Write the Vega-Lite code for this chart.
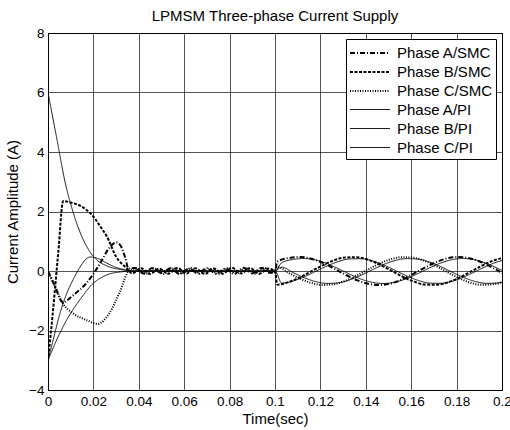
{
  "$schema": "https://vega.github.io/schema/vega-lite/v6.json",
  "width": 454,
  "height": 357,
  "autosize": {"type": "none"},
  "padding": {"left": 48, "top": 33, "right": 8, "bottom": 40},
  "background": "white",
  "title": {"text": "LPMSM Three-phase Current Supply", "fontSize": 15, "font": "Liberation Sans", "fontWeight": "normal", "color": "black", "offset": 2, "anchor": "middle"},
  "config": {
    "view": {"stroke": "black", "strokeWidth": 1},
    "font": "Liberation Sans",
    "axis": {"gridColor": "black", "gridOpacity": 0.85, "gridWidth": 0.8, "domain": false, "ticks": false, "labelFont": "Liberation Sans", "labelFontSize": 13.5, "labelColor": "black", "titleFont": "Liberation Sans", "titleFontSize": 15, "titleFontWeight": "normal", "titleColor": "black"},
    "legend": {"labelFont": "Liberation Sans", "labelFontSize": 15, "labelColor": "black"}
  },
  "data": {"values": [
    {"series":"Phase A/SMC","time":0,"current":0},{"series":"Phase A/SMC","time":0.003,"current":-0.5},{"series":"Phase A/SMC","time":0.0065,"current":-1.05},{"series":"Phase A/SMC","time":0.011,"current":-0.82},{"series":"Phase A/SMC","time":0.017,"current":-0.4},{"series":"Phase A/SMC","time":0.023,"current":0.26},{"series":"Phase A/SMC","time":0.027,"current":0.78},{"series":"Phase A/SMC","time":0.03,"current":0.96},{"series":"Phase A/SMC","time":0.032,"current":0.85},{"series":"Phase A/SMC","time":0.034,"current":0.45},{"series":"Phase A/SMC","time":0.0355,"current":0.08},
    {"series":"Phase A/SMC","time":0.038,"current":0.1},{"series":"Phase A/SMC","time":0.042,"current":-0.08},{"series":"Phase A/SMC","time":0.046,"current":0.1},{"series":"Phase A/SMC","time":0.05,"current":-0.07},{"series":"Phase A/SMC","time":0.054,"current":0.09},{"series":"Phase A/SMC","time":0.058,"current":-0.1},{"series":"Phase A/SMC","time":0.062,"current":0.08},{"series":"Phase A/SMC","time":0.066,"current":-0.08},{"series":"Phase A/SMC","time":0.07,"current":0.1},{"series":"Phase A/SMC","time":0.074,"current":-0.09},{"series":"Phase A/SMC","time":0.078,"current":0.08},{"series":"Phase A/SMC","time":0.082,"current":-0.1},{"series":"Phase A/SMC","time":0.086,"current":0.11},{"series":"Phase A/SMC","time":0.09,"current":-0.08},{"series":"Phase A/SMC","time":0.094,"current":0.1},{"series":"Phase A/SMC","time":0.098,"current":-0.06},{"series":"Phase A/SMC","time":0.1,"current":0},
    {"series":"Phase A/SMC","time":0.101,"current":0.314},{"series":"Phase A/SMC","time":0.106,"current":0.434},{"series":"Phase A/SMC","time":0.111,"current":0.47},{"series":"Phase A/SMC","time":0.116,"current":0.413},{"series":"Phase A/SMC","time":0.121,"current":0.276},{"series":"Phase A/SMC","time":0.126,"current":0.084},{"series":"Phase A/SMC","time":0.131,"current":-0.123},{"series":"Phase A/SMC","time":0.136,"current":-0.306},{"series":"Phase A/SMC","time":0.141,"current":-0.43},{"series":"Phase A/SMC","time":0.146,"current":-0.47},{"series":"Phase A/SMC","time":0.151,"current":-0.418},{"series":"Phase A/SMC","time":0.156,"current":-0.284},{"series":"Phase A/SMC","time":0.161,"current":-0.094},{"series":"Phase A/SMC","time":0.166,"current":0.113},{"series":"Phase A/SMC","time":0.171,"current":0.298},{"series":"Phase A/SMC","time":0.176,"current":0.426},{"series":"Phase A/SMC","time":0.181,"current":0.47},{"series":"Phase A/SMC","time":0.186,"current":0.423},{"series":"Phase A/SMC","time":0.191,"current":0.293},{"series":"Phase A/SMC","time":0.196,"current":0.105},{"series":"Phase A/SMC","time":0.201,"current":-0.102},

    {"series":"Phase B/SMC","time":0,"current":-3.0},{"series":"Phase B/SMC","time":0.002,"current":-1.5},{"series":"Phase B/SMC","time":0.0045,"current":0.6},{"series":"Phase B/SMC","time":0.0067,"current":2.35},{"series":"Phase B/SMC","time":0.01,"current":2.3},{"series":"Phase B/SMC","time":0.0141,"current":2.2},{"series":"Phase B/SMC","time":0.017,"current":2.05},{"series":"Phase B/SMC","time":0.02,"current":1.83},{"series":"Phase B/SMC","time":0.023,"current":1.5},{"series":"Phase B/SMC","time":0.026,"current":1.15},{"series":"Phase B/SMC","time":0.03,"current":0.48},{"series":"Phase B/SMC","time":0.0347,"current":0.09},
    {"series":"Phase B/SMC","time":0.037,"current":-0.08},{"series":"Phase B/SMC","time":0.041,"current":0.09},{"series":"Phase B/SMC","time":0.045,"current":-0.1},{"series":"Phase B/SMC","time":0.049,"current":0.08},{"series":"Phase B/SMC","time":0.053,"current":-0.09},{"series":"Phase B/SMC","time":0.057,"current":0.1},{"series":"Phase B/SMC","time":0.061,"current":-0.08},{"series":"Phase B/SMC","time":0.065,"current":0.09},{"series":"Phase B/SMC","time":0.069,"current":-0.1},{"series":"Phase B/SMC","time":0.073,"current":0.08},{"series":"Phase B/SMC","time":0.077,"current":-0.09},{"series":"Phase B/SMC","time":0.081,"current":0.11},{"series":"Phase B/SMC","time":0.085,"current":-0.08},{"series":"Phase B/SMC","time":0.089,"current":0.1},{"series":"Phase B/SMC","time":0.093,"current":-0.09},{"series":"Phase B/SMC","time":0.097,"current":0.08},{"series":"Phase B/SMC","time":0.1,"current":0},
    {"series":"Phase B/SMC","time":0.101,"current":-0.46},{"series":"Phase B/SMC","time":0.106,"current":-0.373},{"series":"Phase B/SMC","time":0.111,"current":-0.212},{"series":"Phase B/SMC","time":0.116,"current":-0.011},{"series":"Phase B/SMC","time":0.121,"current":0.192},{"series":"Phase B/SMC","time":0.126,"current":0.359},{"series":"Phase B/SMC","time":0.131,"current":0.454},{"series":"Phase B/SMC","time":0.136,"current":0.462},{"series":"Phase B/SMC","time":0.141,"current":0.379},{"series":"Phase B/SMC","time":0.146,"current":0.222},{"series":"Phase B/SMC","time":0.151,"current":0.022},{"series":"Phase B/SMC","time":0.156,"current":-0.182},{"series":"Phase B/SMC","time":0.161,"current":-0.352},{"series":"Phase B/SMC","time":0.166,"current":-0.452},{"series":"Phase B/SMC","time":0.171,"current":-0.464},{"series":"Phase B/SMC","time":0.176,"current":-0.385},{"series":"Phase B/SMC","time":0.181,"current":-0.231},{"series":"Phase B/SMC","time":0.186,"current":-0.033},{"series":"Phase B/SMC","time":0.191,"current":0.172},{"series":"Phase B/SMC","time":0.196,"current":0.344},{"series":"Phase B/SMC","time":0.201,"current":0.448},

    {"series":"Phase C/SMC","time":0,"current":0},{"series":"Phase C/SMC","time":0.003,"current":-0.5},{"series":"Phase C/SMC","time":0.0065,"current":-1.08},{"series":"Phase C/SMC","time":0.011,"current":-1.42},{"series":"Phase C/SMC","time":0.017,"current":-1.65},{"series":"Phase C/SMC","time":0.022,"current":-1.78},{"series":"Phase C/SMC","time":0.027,"current":-1.42},{"series":"Phase C/SMC","time":0.032,"current":-0.64},{"series":"Phase C/SMC","time":0.0355,"current":0},
    {"series":"Phase C/SMC","time":0.039,"current":0.09},{"series":"Phase C/SMC","time":0.043,"current":-0.1},{"series":"Phase C/SMC","time":0.047,"current":0.08},{"series":"Phase C/SMC","time":0.051,"current":-0.1},{"series":"Phase C/SMC","time":0.055,"current":0.09},{"series":"Phase C/SMC","time":0.059,"current":-0.08},{"series":"Phase C/SMC","time":0.063,"current":0.1},{"series":"Phase C/SMC","time":0.067,"current":-0.09},{"series":"Phase C/SMC","time":0.071,"current":0.08},{"series":"Phase C/SMC","time":0.075,"current":-0.1},{"series":"Phase C/SMC","time":0.079,"current":0.09},{"series":"Phase C/SMC","time":0.083,"current":-0.08},{"series":"Phase C/SMC","time":0.087,"current":0.1},{"series":"Phase C/SMC","time":0.091,"current":-0.09},{"series":"Phase C/SMC","time":0.095,"current":0.11},{"series":"Phase C/SMC","time":0.099,"current":-0.05},{"series":"Phase C/SMC","time":0.1,"current":0},
    {"series":"Phase C/SMC","time":0.101,"current":0.145},{"series":"Phase C/SMC","time":0.106,"current":-0.062},{"series":"Phase C/SMC","time":0.111,"current":-0.257},{"series":"Phase C/SMC","time":0.116,"current":-0.401},{"series":"Phase C/SMC","time":0.121,"current":-0.468},{"series":"Phase C/SMC","time":0.126,"current":-0.442},{"series":"Phase C/SMC","time":0.131,"current":-0.331},{"series":"Phase C/SMC","time":0.136,"current":-0.156},{"series":"Phase C/SMC","time":0.141,"current":0.051},{"series":"Phase C/SMC","time":0.146,"current":0.248},{"series":"Phase C/SMC","time":0.151,"current":0.396},{"series":"Phase C/SMC","time":0.156,"current":0.466},{"series":"Phase C/SMC","time":0.161,"current":0.446},{"series":"Phase C/SMC","time":0.166,"current":0.339},{"series":"Phase C/SMC","time":0.171,"current":0.165},{"series":"Phase C/SMC","time":0.176,"current":-0.041},{"series":"Phase C/SMC","time":0.181,"current":-0.239},{"series":"Phase C/SMC","time":0.186,"current":-0.39},{"series":"Phase C/SMC","time":0.191,"current":-0.465},{"series":"Phase C/SMC","time":0.196,"current":-0.449},{"series":"Phase C/SMC","time":0.201,"current":-0.346},

    {"series":"Phase A/PI","time":0,"current":6},{"series":"Phase A/PI","time":0.004,"current":4.4},{"series":"Phase A/PI","time":0.0075,"current":3.0},{"series":"Phase A/PI","time":0.0112,"current":1.94},{"series":"Phase A/PI","time":0.0156,"current":1.04},{"series":"Phase A/PI","time":0.0207,"current":0.43},{"series":"Phase A/PI","time":0.026,"current":0.17},{"series":"Phase A/PI","time":0.032,"current":0.05},{"series":"Phase A/PI","time":0.038,"current":0},{"series":"Phase A/PI","time":0.06,"current":0.01},{"series":"Phase A/PI","time":0.08,"current":-0.01},{"series":"Phase A/PI","time":0.1,"current":0},
    {"series":"Phase A/PI","time":0.103,"current":0.281},{"series":"Phase A/PI","time":0.108,"current":0.388},{"series":"Phase A/PI","time":0.113,"current":0.42},{"series":"Phase A/PI","time":0.118,"current":0.369},{"series":"Phase A/PI","time":0.123,"current":0.247},{"series":"Phase A/PI","time":0.128,"current":0.075},{"series":"Phase A/PI","time":0.133,"current":-0.11},{"series":"Phase A/PI","time":0.138,"current":-0.274},{"series":"Phase A/PI","time":0.143,"current":-0.384},{"series":"Phase A/PI","time":0.148,"current":-0.42},{"series":"Phase A/PI","time":0.153,"current":-0.373},{"series":"Phase A/PI","time":0.158,"current":-0.254},{"series":"Phase A/PI","time":0.163,"current":-0.084},{"series":"Phase A/PI","time":0.168,"current":0.101},{"series":"Phase A/PI","time":0.173,"current":0.267},{"series":"Phase A/PI","time":0.178,"current":0.381},{"series":"Phase A/PI","time":0.183,"current":0.42},{"series":"Phase A/PI","time":0.188,"current":0.378},{"series":"Phase A/PI","time":0.193,"current":0.262},{"series":"Phase A/PI","time":0.198,"current":0.094},{"series":"Phase A/PI","time":0.203,"current":-0.092},

    {"series":"Phase B/PI","time":0,"current":-3},{"series":"Phase B/PI","time":0.002,"current":-2.4},{"series":"Phase B/PI","time":0.0053,"current":-1.42},{"series":"Phase B/PI","time":0.008,"current":-0.8},{"series":"Phase B/PI","time":0.011,"current":-0.3},{"series":"Phase B/PI","time":0.014,"current":0.12},{"series":"Phase B/PI","time":0.0185,"current":0.47},{"series":"Phase B/PI","time":0.022,"current":0.42},{"series":"Phase B/PI","time":0.026,"current":0.26},{"series":"Phase B/PI","time":0.03,"current":0.12},{"series":"Phase B/PI","time":0.034,"current":0.04},{"series":"Phase B/PI","time":0.038,"current":0},{"series":"Phase B/PI","time":0.06,"current":-0.01},{"series":"Phase B/PI","time":0.08,"current":0.01},{"series":"Phase B/PI","time":0.1,"current":0},
    {"series":"Phase B/PI","time":0.103,"current":-0.411},{"series":"Phase B/PI","time":0.108,"current":-0.333},{"series":"Phase B/PI","time":0.113,"current":-0.19},{"series":"Phase B/PI","time":0.118,"current":-0.01},{"series":"Phase B/PI","time":0.123,"current":0.171},{"series":"Phase B/PI","time":0.128,"current":0.32},{"series":"Phase B/PI","time":0.133,"current":0.406},{"series":"Phase B/PI","time":0.138,"current":0.413},{"series":"Phase B/PI","time":0.143,"current":0.339},{"series":"Phase B/PI","time":0.148,"current":0.199},{"series":"Phase B/PI","time":0.153,"current":0.02},{"series":"Phase B/PI","time":0.158,"current":-0.163},{"series":"Phase B/PI","time":0.163,"current":-0.314},{"series":"Phase B/PI","time":0.168,"current":-0.404},{"series":"Phase B/PI","time":0.173,"current":-0.415},{"series":"Phase B/PI","time":0.178,"current":-0.344},{"series":"Phase B/PI","time":0.183,"current":-0.207},{"series":"Phase B/PI","time":0.188,"current":-0.029},{"series":"Phase B/PI","time":0.193,"current":0.154},{"series":"Phase B/PI","time":0.198,"current":0.307},{"series":"Phase B/PI","time":0.203,"current":0.401},

    {"series":"Phase C/PI","time":0,"current":-3},{"series":"Phase C/PI","time":0.0038,"current":-2.32},{"series":"Phase C/PI","time":0.0082,"current":-1.65},{"series":"Phase C/PI","time":0.014,"current":-0.97},{"series":"Phase C/PI","time":0.02,"current":-0.41},{"series":"Phase C/PI","time":0.026,"current":-0.13},{"series":"Phase C/PI","time":0.032,"current":-0.03},{"series":"Phase C/PI","time":0.038,"current":0},{"series":"Phase C/PI","time":0.06,"current":0.01},{"series":"Phase C/PI","time":0.08,"current":-0.01},{"series":"Phase C/PI","time":0.1,"current":0},
    {"series":"Phase C/PI","time":0.103,"current":0.13},{"series":"Phase C/PI","time":0.108,"current":-0.055},{"series":"Phase C/PI","time":0.113,"current":-0.229},{"series":"Phase C/PI","time":0.118,"current":-0.358},{"series":"Phase C/PI","time":0.123,"current":-0.418},{"series":"Phase C/PI","time":0.128,"current":-0.395},{"series":"Phase C/PI","time":0.133,"current":-0.296},{"series":"Phase C/PI","time":0.138,"current":-0.139},{"series":"Phase C/PI","time":0.143,"current":0.045},{"series":"Phase C/PI","time":0.148,"current":0.221},{"series":"Phase C/PI","time":0.153,"current":0.354},{"series":"Phase C/PI","time":0.158,"current":0.417},{"series":"Phase C/PI","time":0.163,"current":0.399},{"series":"Phase C/PI","time":0.168,"current":0.303},{"series":"Phase C/PI","time":0.173,"current":0.148},{"series":"Phase C/PI","time":0.178,"current":-0.037},{"series":"Phase C/PI","time":0.183,"current":-0.213},{"series":"Phase C/PI","time":0.188,"current":-0.348},{"series":"Phase C/PI","time":0.193,"current":-0.415},{"series":"Phase C/PI","time":0.198,"current":-0.402},{"series":"Phase C/PI","time":0.203,"current":-0.309}
  ]},
  "mark": {"type": "line", "interpolate": "monotone", "clip": true, "color": "black"},
  "encoding": {
    "x": {"field": "time", "type": "quantitative", "title": "Time(sec)",
      "scale": {"domain": [0, 0.2], "nice": false, "zero": false},
      "axis": {"values": [0, 0.02, 0.04, 0.06, 0.08, 0.1, 0.12, 0.14, 0.16, 0.18, 0.2], "format": "~g", "labelPadding": 4, "titlePadding": 4, "labelFlush": false}},
    "y": {"field": "current", "type": "quantitative", "title": "Current Amplitude (A)",
      "scale": {"domain": [-4, 8], "nice": false, "zero": false},
      "axis": {"values": [-4, -2, 0, 2, 4, 6, 8], "labelPadding": 4, "titlePadding": 8}},
    "strokeDash": {"field": "series", "type": "nominal",
      "scale": {"domain": ["Phase A/SMC", "Phase B/SMC", "Phase C/SMC", "Phase A/PI", "Phase B/PI", "Phase C/PI"],
        "range": [[5, 2, 1, 2], [3, 1.5], [1, 1.5], [1, 0], [1, 0], [1, 0]]},
      "legend": {"title": null, "orient": "top-right", "offset": 6, "symbolType": "M-2,0H2", "symbolSize": 400, "symbolOffset": 10, "symbolStrokeColor": "black", "fillColor": "white", "strokeColor": "black", "padding": 3, "rowPadding": 0, "labelOffset": 16,
        "encode": {"symbols": {"update": {"strokeWidth": {"value": 1.2}, "stroke": {"value": "black"}}}}}},
    "strokeWidth": {"field": "series", "type": "nominal",
      "scale": {"type": "ordinal", "domain": ["Phase A/SMC", "Phase B/SMC", "Phase C/SMC", "Phase A/PI", "Phase B/PI", "Phase C/PI"],
        "range": [2, 2, 2, 0.9, 0.9, 0.9]},
      "legend": null}
  }
}
